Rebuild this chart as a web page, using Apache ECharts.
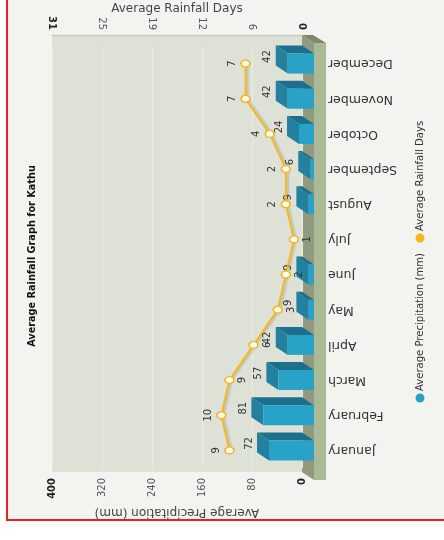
<!DOCTYPE html>
<html><head><meta charset="utf-8">
<script src="https://cdn.jsdelivr.net/npm/echarts@6/dist/echarts.min.js"></script>
<style>html,body{margin:0;padding:0;background:#fff}#c{width:444px;height:540px}</style>
</head><body><div id="c"></div>
<script>
// ---- data ----
const months = ['January','February','March','April','May','June','July','August','September','October','November','December'];
const precipitation = [72, 81, 57, 42, 9, 9, 0, 9, 6, 24, 42, 42];
const rainDays = [9, 10, 9, 6, 3, 2, 1, 2, 2, 4, 7, 7];
const precipTickLabels = [0, 80, 160, 240, 320, 400];
const dayTickLabels = [0, 6, 12, 19, 25, 31];
const titleText = 'Average Rainfall Graph for Kathu';
const precipName = 'Average Precipitation (mm)';
const daysName = 'Average Rainfall Days';

// ---- style / layout ----
const GRID = {left: 52, right: 142, top: 46, bottom: 72};
const DX = 12, DY = 8, BAR_H = 20;
const labelsBelow = new Set(['March','April','May','June','July']);
const FONT = 'DejaVu Sans';
const NARROW = '"DejaVu Sans Condensed", Roboto, sans-serif';
const C_FRONT = '#29a2c7', C_TOP = '#1d6f8e', C_END = '#23809f';
const C_LINE = '#f5b71f';

const chart = echarts.init(document.getElementById('c'), null, {renderer: 'canvas'});

function boldEnds(list) {
  return function (v, i) {
    const s = String(list[i] !== undefined ? list[i] : Math.round(v));
    return (i === 0 || i === list.length - 1) ? '{b|' + s + '}' : s;
  };
}

const option = {
  animation: false,
  backgroundColor: 'transparent',
  grid: Object.assign({outerBoundsMode: 'none', containLabel: false}, GRID),
  xAxis: [
    {
      type: 'value', position: 'bottom', inverse: true,
      min: precipTickLabels[0], max: precipTickLabels[precipTickLabels.length - 1],
      interval: precipTickLabels[1] - precipTickLabels[0],
      name: precipName, nameLocation: 'middle', nameGap: 38, nameRotate: 180, nameMoveOverlap: false,
      nameTextStyle: {fontFamily: FONT, fontSize: 12, color: '#444'},
      axisLine: {show: false}, axisTick: {show: false},
      splitLine: {show: true, lineStyle: {color: '#e9ece3', width: 1}},
      axisLabel: {rotate: 90, margin: 10, fontFamily: FONT, fontSize: 10, color: '#555',
        formatter: boldEnds(precipTickLabels),
        rich: {b: {fontFamily: FONT, fontSize: 10, fontWeight: 'bold', color: '#222'}}}
    },
    {
      type: 'value', position: 'top', inverse: true,
      min: 0, max: dayTickLabels[dayTickLabels.length - 1],
      interval: dayTickLabels[dayTickLabels.length - 1] / (dayTickLabels.length - 1),
      name: daysName, nameLocation: 'middle', nameGap: 31, nameMoveOverlap: false,
      nameTextStyle: {fontFamily: FONT, fontSize: 12, color: '#444', verticalAlign: 'bottom'},
      axisLine: {show: false}, axisTick: {show: false}, splitLine: {show: false},
      axisLabel: {rotate: 90, margin: 16, fontFamily: FONT, fontSize: 10, color: '#555',
        formatter: boldEnds(dayTickLabels),
        rich: {b: {fontFamily: FONT, fontSize: 10, fontWeight: 'bold', color: '#222'}}}
    }
  ],
  yAxis: {
    type: 'category', position: 'right', data: months,
    axisLine: {show: false}, axisTick: {show: false}, splitLine: {show: false},
    axisLabel: {rotate: 180, margin: 26, fontFamily: FONT, fontSize: 12.5, color: '#333', interval: 0}
  },
  graphic: [
    {type: 'rect', z: -20, silent: true, shape: {x: 7, y: -10, width: 470, height: 530},
     style: {fill: '#f3f4ef', stroke: '#ee1c24', lineWidth: 2}},
    {type: 'rect', z: -10, silent: true, shape: {x: 52, y: 35, width: 250, height: 437},
     style: {fill: '#dee2d6'}},
    {type: 'line', z: -9, silent: true, shape: {x1: 52, y1: 35.5, x2: 302, y2: 35.5},
     style: {stroke: '#c8ccc0', lineWidth: 1.5}},
    {type: 'polygon', z: -9, silent: true, shape: {points: [[302,35],[314,43],[314,480],[302,472]]},
     style: {fill: '#8f9a7f'}},
    {type: 'polygon', z: -9, silent: true, shape: {points: [[302,35],[313,35],[326,43],[314,43]]},
     style: {fill: '#7d886c'}},
    {type: 'rect', z: -9, silent: true, shape: {x: 314, y: 43, width: 12, height: 437},
     style: {fill: '#aab996'}},
    {type: 'text', z: 10, x: 32, y: 256, rotation: Math.PI / 2,
     style: {text: titleText, fill: '#111', fontFamily: NARROW, fontSize: 10.8, fontWeight: 'bold',
       align: 'center', verticalAlign: 'middle'}},
    {type: 'circle', z: 10, shape: {cx: 420, cy: 398, r: 4.5}, style: {fill: C_FRONT}},
    {type: 'text', z: 10, x: 420, y: 391, rotation: Math.PI / 2,
     style: {text: precipName, fill: '#333', fontFamily: NARROW, fontSize: 11.2,
       align: 'left', verticalAlign: 'middle'}},
    {type: 'circle', z: 10, shape: {cx: 420, cy: 238, r: 4.5}, style: {fill: C_LINE}},
    {type: 'text', z: 10, x: 420, y: 231, rotation: Math.PI / 2,
     style: {text: daysName, fill: '#333', fontFamily: NARROW, fontSize: 11.2,
       align: 'left', verticalAlign: 'middle'}}
  ],
  series: [
    {
      type: 'custom', name: precipName, xAxisIndex: 0, yAxisIndex: 0,
      encode: {x: 0, y: 1},
      data: precipitation.map((v, i) => [v, i]),
      renderItem: function (params, api) {
        const v = api.value(0), c = api.value(1);
        const p0 = api.coord([0, c]), p1 = api.coord([v, c]);
        const xb0 = p0[0], xb1 = p1[0];
        const xf0 = xb0 + DX, xf1 = xb1 + DX;
        const yc = p0[1], yt = yc - BAR_H / 2, yb = yc + BAR_H / 2;
        const children = [];
        if (v > 0) {
          children.push({type: 'polygon', shape: {points: [[xf1, yt], [xf0, yt], [xb0, yt - DY], [xb1, yt - DY]]},
            style: {fill: C_TOP}});
          children.push({type: 'polygon', shape: {points: [[xf1, yt], [xb1, yt - DY], [xb1, yb - DY], [xf1, yb]]},
            style: {fill: C_END}});
          children.push({type: 'rect', shape: {x: xf1, y: yt, width: xf0 - xf1, height: BAR_H},
            style: {fill: C_FRONT}});
          children.push({type: 'text', x: xb1 - 3, y: yc - 7, rotation: Math.PI / 2,
            style: {text: String(v), fill: '#333', fontFamily: FONT, fontSize: 10,
              align: 'center', verticalAlign: 'bottom'}});
        }
        return {type: 'group', children: children};
      },
      z: 2
    },
    {
      type: 'line', name: daysName, xAxisIndex: 1, yAxisIndex: 0, z: 5,
      symbol: 'circle', symbolSize: [9, 7],
      lineStyle: {color: C_LINE, width: 2, shadowColor: 'rgba(0,0,0,0.18)', shadowBlur: 2, shadowOffsetX: 2},
      itemStyle: {color: '#ffffff', borderColor: C_LINE, borderWidth: 1.5},
      data: rainDays.map((d, i) => ({
        value: [d, i],
        label: labelsBelow.has(months[i])
          ? {position: 'right', align: 'center', verticalAlign: 'top'}
          : {position: 'left', align: 'center', verticalAlign: 'bottom'}
      })),
      label: {show: true, rotate: 90, distance: 3, fontFamily: FONT, fontSize: 10, color: '#333',
        formatter: p => String(p.value[0])}
    }
  ]
};
chart.setOption(option);
</script>
</body></html>
